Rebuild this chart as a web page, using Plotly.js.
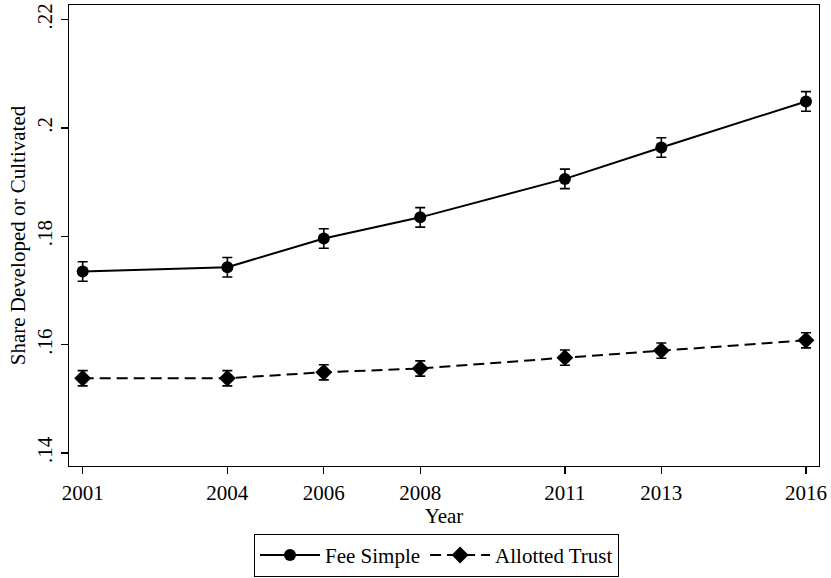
<!DOCTYPE html>
<html>
<head>
<meta charset="utf-8">
<script src="https://cdn.plot.ly/plotly-3.0.1.min.js"></script>
<style>
  html, body { margin: 0; padding: 0; background: #fff; }
  #chart { width: 831px; height: 578px; }
</style>
</head>
<body>
<div id="chart"></div>
<script>
// Survey years
const years = [2001, 2004, 2006, 2008, 2011, 2013, 2016];

// Share of land developed or cultivated, by tenure type
const feeSimple    = [0.1735, 0.1743, 0.1796, 0.1835, 0.1906, 0.1964, 0.2049];
const feeSimpleErr = [0.0018, 0.0018, 0.0018, 0.0018, 0.0018, 0.0018, 0.0018];

const allottedTrust    = [0.1538, 0.1538, 0.1549, 0.1556, 0.1576, 0.1589, 0.1608];
const allottedTrustErr = [0.0014, 0.0014, 0.0014, 0.0014, 0.0014, 0.0014, 0.0014];

// Axis tick labels
const yTickVals = [0.14, 0.16, 0.18, 0.20, 0.22];
const yTickText = ['.14', '.16', '.18', '.2', '.22'];

const serif = 'Liberation Serif, Times New Roman, serif';

const traces = [
  {
    x: years, y: feeSimple, name: 'Fee Simple', type: 'scatter', mode: 'lines+markers',
    line: { color: '#000', width: 2 },
    marker: { symbol: 'circle', size: 12, color: '#000' },
    error_y: { type: 'data', array: feeSimpleErr, visible: true, color: '#000', thickness: 1.6, width: 5 }
  },
  {
    x: years, y: allottedTrust, name: 'Allotted Trust', type: 'scatter', mode: 'lines+markers',
    line: { color: '#000', width: 2, dash: '11px,6px' },
    marker: { symbol: 'diamond', size: 13, color: '#000' },
    error_y: { type: 'data', array: allottedTrustErr, visible: true, color: '#000', thickness: 1.6, width: 5 }
  }
];

const layout = {
  width: 831, height: 578,
  margin: { l: 69, r: 12, t: 5, b: 112, autoexpand: false },
  paper_bgcolor: '#fff', plot_bgcolor: '#fff',
  font: { family: serif, size: 21, color: '#000' },
  showlegend: true,
  legend: {
    orientation: 'h', x: 0.49, xanchor: 'center',
    yref: 'container', y: 0.002, yanchor: 'bottom',
    bordercolor: '#000', borderwidth: 1, bgcolor: '#fff',
    font: { family: serif, size: 21, color: '#000' },
    itemwidth: 60, tracegroupgap: 0
  },
  xaxis: {
    range: [2000.716, 2016.27],
    automargin: false,
    tickmode: 'array', tickvals: years, ticktext: years.map(String),
    ticks: 'outside', ticklen: 7, tickwidth: 1.3, tickcolor: '#000',
    showline: true, linecolor: '#000', linewidth: 1.3, mirror: true,
    showgrid: false, zeroline: false,
    tickfont: { family: serif, size: 21, color: '#000' },
    title: { text: 'Year', font: { family: serif, size: 21, color: '#000' }, standoff: 0 }
  },
  yaxis: {
    range: [0.1376, 0.2227],
    automargin: false,
    tickmode: 'array', tickvals: yTickVals, ticktext: yTickText,
    ticks: 'outside', ticklen: 7, tickwidth: 1.3, tickcolor: '#000',
    tickangle: -90,
    showline: true, linecolor: '#000', linewidth: 1.3, mirror: true,
    showgrid: false, zeroline: false,
    tickfont: { family: serif, size: 21, color: '#000' },
    title: { text: 'Share Developed or Cultivated', font: { family: serif, size: 21, color: '#000' }, standoff: 2 }
  }
};

Plotly.newPlot('chart', traces, layout, { displayModeBar: false, staticPlot: true });
</script>
</body>
</html>
